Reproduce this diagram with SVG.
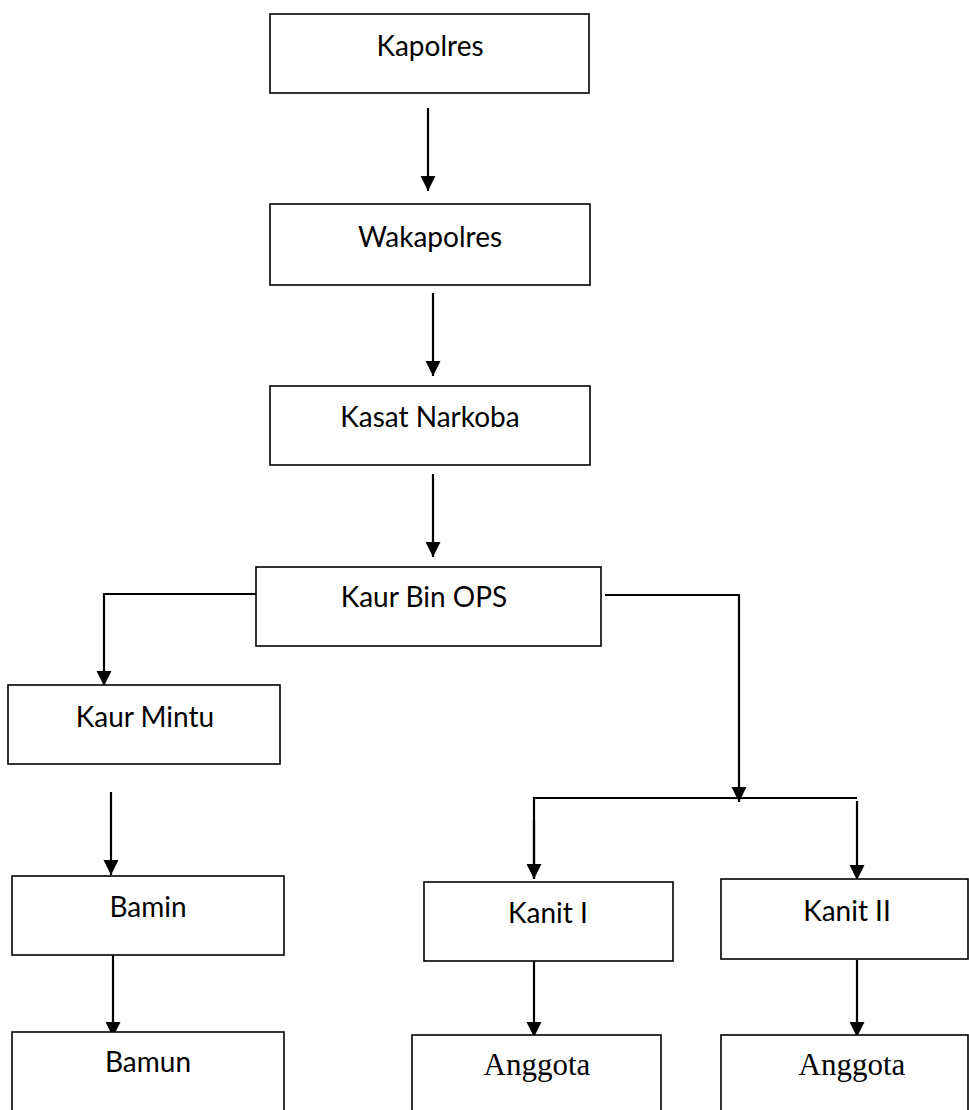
<svg xmlns="http://www.w3.org/2000/svg" width="969" height="1110" viewBox="0 0 969 1110">
<style>
.box{fill:#fff;stroke:#000;stroke-width:1.6}
.lbl{font-family:Lato,"Liberation Sans",sans-serif;font-size:28px;fill:#000;text-anchor:middle}
.ser{font-family:"Liberation Serif","Times New Roman",serif;font-size:31px;fill:#000;text-anchor:middle}
.ln{fill:none;stroke:#000;stroke-width:2.2}
.arr{marker-end:url(#ah)}
</style>
<defs>
<marker id="ah" markerUnits="userSpaceOnUse" markerWidth="16" markerHeight="16" refX="15" refY="7.5" orient="auto">
<path d="M0,0 L15,7.5 L0,15 z" fill="#000"/>
</marker>
</defs>
<rect width="969" height="1110" fill="#fff"/>
<g id="connectors">
<line class="ln arr" x1="428" y1="108" x2="428" y2="191"/>
<line class="ln arr" x1="433" y1="293" x2="433" y2="376"/>
<line class="ln arr" x1="433" y1="474" x2="433" y2="557"/>
<polyline class="ln arr" points="256,594 104,594 104,686"/>
<polyline class="ln arr" points="605,595 739,595 739,802"/>
<polyline class="ln" points="534,879 534,798 857,798"/>
<line class="ln arr" x1="534" y1="820" x2="534" y2="879"/>
<line class="ln arr" x1="857" y1="801" x2="857" y2="880"/>
<line class="ln arr" x1="111" y1="792" x2="111" y2="875"/>
<line class="ln arr" x1="113" y1="955" x2="113" y2="1037"/>
<line class="ln arr" x1="534" y1="961" x2="534" y2="1037"/>
<line class="ln arr" x1="857" y1="960" x2="857" y2="1037"/>
</g>
<g id="kapolres"><rect class="box" x="270" y="14" width="319" height="79"/><text class="lbl" x="430" y="56">Kapolres</text></g>
<g id="wakapolres"><rect class="box" x="270" y="204" width="320" height="81"/><text class="lbl" x="430" y="247">Wakapolres</text></g>
<g id="kasat"><rect class="box" x="270" y="386" width="320" height="79"/><text class="lbl" x="430" y="427">Kasat Narkoba</text></g>
<g id="kaurbin"><rect class="box" x="256" y="567" width="345" height="79"/><text class="lbl" x="424" y="607">Kaur Bin OPS</text></g>
<g id="kaurmintu"><rect class="box" x="8" y="685" width="272" height="79"/><text class="lbl" x="145" y="727">Kaur Mintu</text></g>
<g id="bamin"><rect class="box" x="12" y="876" width="272" height="79"/><text class="lbl" x="148" y="917">Bamin</text></g>
<g id="bamun"><rect class="box" x="12" y="1032" width="272" height="90"/><text class="lbl" x="148" y="1072">Bamun</text></g>
<g id="kanit1"><rect class="box" x="424" y="882" width="249" height="79"/><text class="lbl" x="548" y="923">Kanit I</text></g>
<g id="kanit2"><rect class="box" x="721" y="879" width="247" height="80"/><text class="lbl" x="847" y="921">Kanit II</text></g>
<g id="anggota1"><rect class="box" x="412" y="1035" width="249" height="90"/><text class="ser" x="537" y="1075">Anggota</text></g>
<g id="anggota2"><rect class="box" x="721" y="1035" width="247" height="90"/><text class="ser" x="852" y="1075">Anggota</text></g>
</svg>
